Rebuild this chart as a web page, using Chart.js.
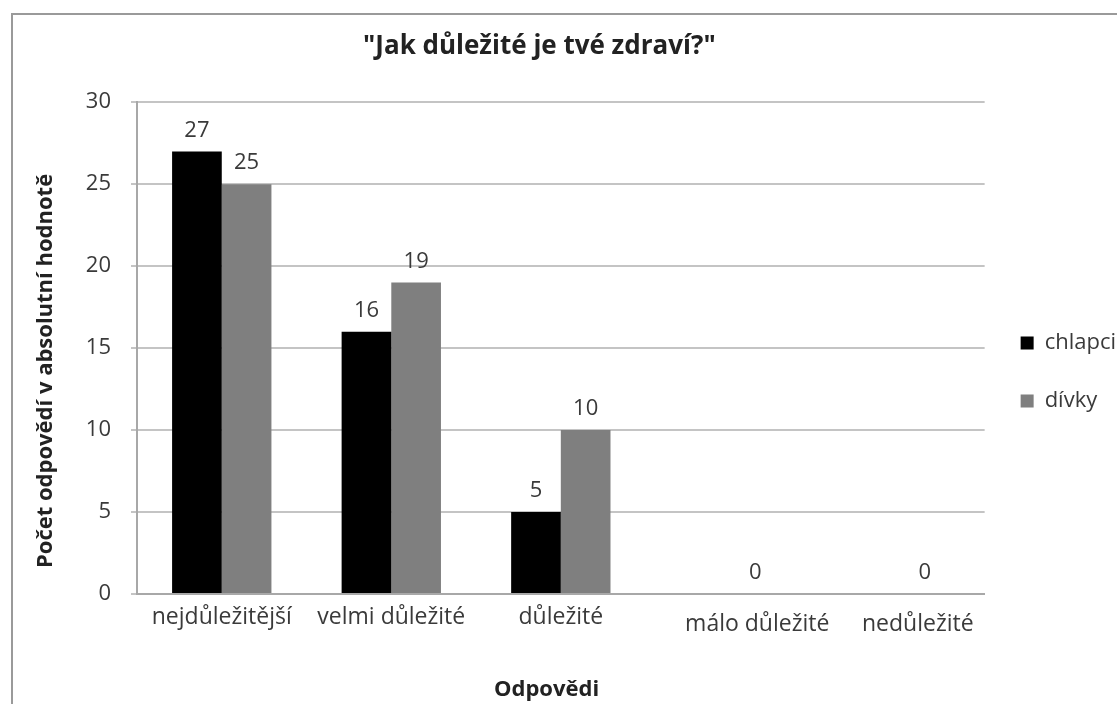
<!DOCTYPE html>
<html>
<head>
<meta charset="utf-8">
<script src="https://cdn.jsdelivr.net/npm/chart.js@4.4.1/dist/chart.umd.min.js"></script>
<style>
  html, body { margin: 0; padding: 0; background: #ffffff; }
  #wrap { width: 1117px; height: 704px; position: relative; }
</style>
</head>
<body>
<div id="wrap"><canvas id="chart" width="1117" height="704"></canvas></div>
<script>
// Survey answers: "How important is your health?"
const categories = ["nejdůležitější", "velmi důležité", "důležité", "málo důležité", "nedůležité"];
const chlapci = [27, 16, 5, null, null];
const divky = [25, 19, 10, 0, 0];
const yTicks = [0, 5, 10, 15, 20, 25, 30];

const FONT = "'Open Sans', 'DejaVu Sans', sans-serif";
const TEXT = '#3a3a3a';
const TITLE = '#222222';

// Last two category labels sit under the girls' column and a little lower
const labelIndent = { 3: 9, 4: 6 };

// Outer chart frame (white page, grey border that runs off the right and bottom edge)
const framePlugin = {
  id: 'frame',
  beforeDraw(chart) {
    const ctx = chart.ctx;
    ctx.save();
    ctx.fillStyle = '#ffffff';
    ctx.fillRect(0, 0, chart.width, chart.height);
    ctx.strokeStyle = '#9a9a9a';
    ctx.lineWidth = 2;
    ctx.strokeRect(12, 14, chart.width + 40, chart.height + 40);
    ctx.restore();
  }
};

// Move the legend block down so its first entry lines up with the 15 gridline
const legendNudge = {
  id: 'legendNudge',
  afterLayout(chart) {
    if (chart.legend) {
      chart.legend.top += 20;
      chart.legend.bottom += 20;
    }
  }
};

// Value labels above each bar
const valueLabels = {
  id: 'valueLabels',
  afterDatasetsDraw(chart) {
    const ctx = chart.ctx;
    ctx.save();
    ctx.font = '22px ' + FONT;
    ctx.fillStyle = TEXT;
    ctx.textAlign = 'center';
    ctx.textBaseline = 'middle';
    chart.data.datasets.forEach((ds, di) => {
      const meta = chart.getDatasetMeta(di);
      meta.data.forEach((bar, i) => {
        const v = ds.data[i];
        if (v === null || v === undefined) return;
        ctx.fillText(String(v), bar.x, bar.y - 21);
      });
    });
    ctx.restore();
  }
};

new Chart(document.getElementById('chart'), {
  type: 'bar',
  data: {
    labels: categories,
    datasets: [
      { label: 'chlapci', data: chlapci, backgroundColor: '#000000' },
      { label: 'dívky', data: divky, backgroundColor: '#7f7f7f' }
    ]
  },
  options: {
    responsive: false,
    animation: false,
    devicePixelRatio: 1,
    layout: { padding: { left: 0, right: -9, top: 0, bottom: 0 } },
    datasets: { bar: { categoryPercentage: 0.586, barPercentage: 1.0 } },
    plugins: {
      title: {
        display: true,
        text: '"Jak důležité je tvé zdraví?"       ',
        color: TITLE,
        font: { family: FONT, size: 26, weight: 'bold', lineHeight: 1.2 },
        padding: { top: 31, bottom: 40 }
      },
      legend: {
        position: 'right',
        labels: {
          color: TEXT,
          font: { family: FONT, size: 22 },
          boxWidth: 13,
          boxHeight: 13,
          padding: 36
        }
      },
      tooltip: { enabled: false }
    },
    scales: {
      x: {
        afterFit(scale) { scale.height = 110; },
        grid: { display: false, drawTicks: false },
        border: { display: true, color: '#a8a8a8', width: 2 },
        ticks: {
          color: TEXT,
          font: (ctx) => ({ family: FONT, size: 23, lineHeight: labelIndent[ctx.index] ? '41px' : '27.6px' }),
          padding: 10,
          maxRotation: 0,
          autoSkip: false,
          callback: (value, index) => ' '.repeat(labelIndent[index] || 0) + categories[index]
        },
        title: {
          display: true,
          text: 'Odpovědi     ',
          color: TITLE,
          font: { family: FONT, size: 22, weight: 'bold', lineHeight: 1.2 },
          padding: { top: 0, bottom: 1 }
        }
      },
      y: {
        min: 0,
        max: 30,
        afterFit(scale) { scale.width = 137; },
        afterBuildTicks(scale) { scale.ticks = yTicks.map(v => ({ value: v })); },
        grid: { color: '#c4c4c4', lineWidth: 2, tickLength: 6, drawTicks: true },
        border: { display: true, color: '#a8a8a8', width: 2 },
        ticks: { color: TEXT, font: { family: FONT, size: 22 }, padding: 20 },
        title: {
          display: true,
          text: 'Počet odpovědí v absolutní hodnotě        ',
          color: TITLE,
          font: { family: FONT, size: 22, weight: 'bold', lineHeight: 1.2 },
          padding: { top: 33, bottom: 0 }
        }
      }
    }
  },
  plugins: [framePlugin, legendNudge, valueLabels]
});
</script>
</body>
</html>
